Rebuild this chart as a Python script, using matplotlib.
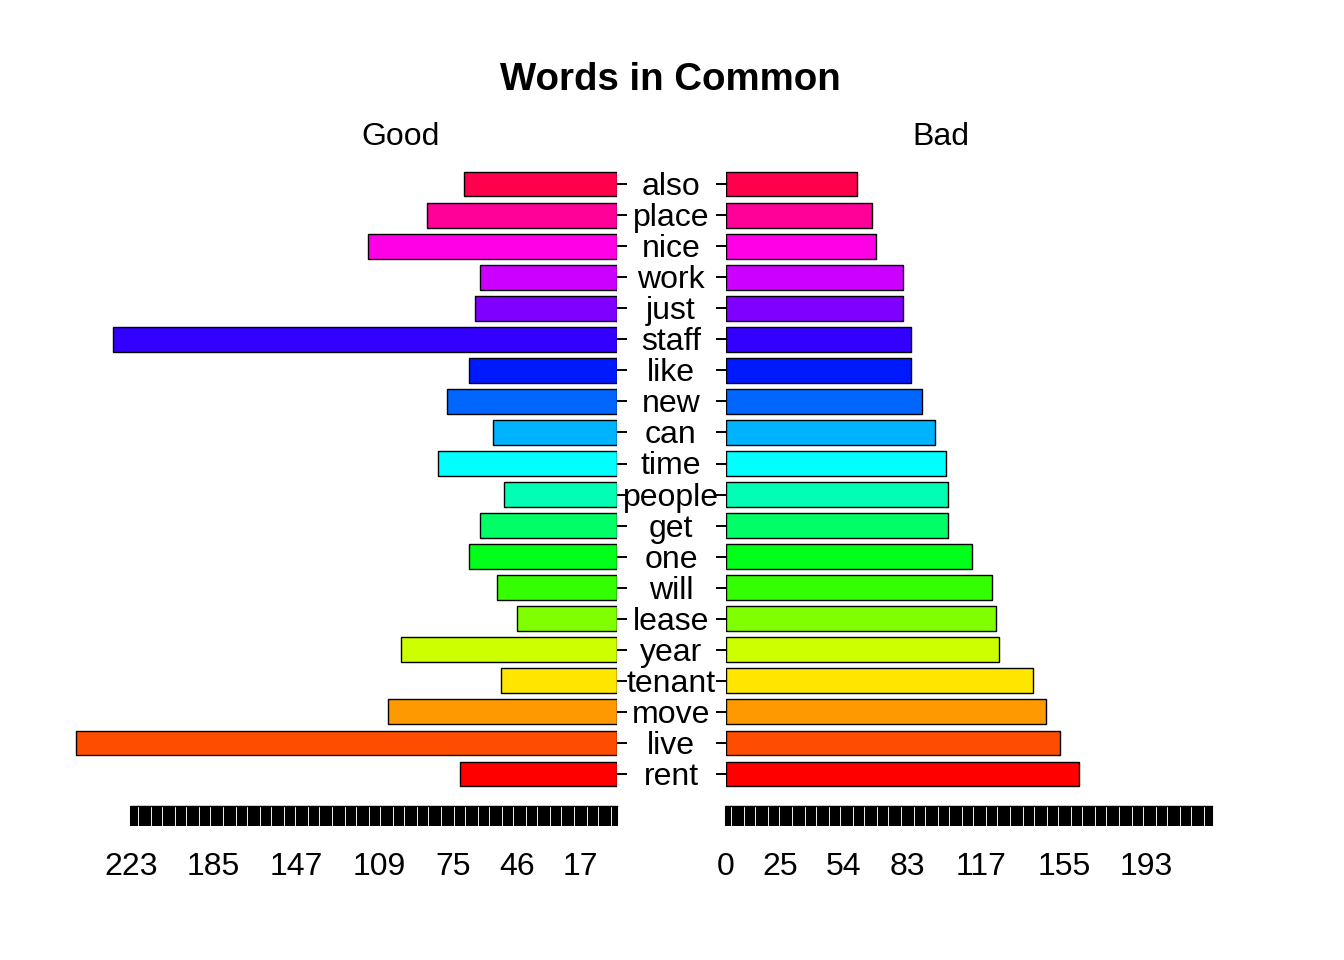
import matplotlib
matplotlib.use("Agg")
import matplotlib.pyplot as plt
import matplotlib.transforms as mtransforms
import numpy as np

words = ["rent", "live", "move", "tenant", "year", "lease", "will", "one", "get",
         "people", "time", "can", "new", "like", "staff", "just", "work", "nice",
         "place", "also"]
good = [72, 248, 105, 53, 99, 46, 55, 68, 63, 52, 82, 57, 78, 68, 231, 65, 63, 114, 87, 70]
bad = [162, 153, 147, 141, 125, 124, 122, 113, 102, 102, 101, 96, 90, 85, 85, 81, 81, 69, 67, 60]
colors = ["#FF0000", "#FF4D00", "#FF9900", "#FFE600", "#CCFF00", "#80FF00", "#33FF00",
          "#00FF19", "#00FF66", "#00FFB2", "#00FFFF", "#00B3FF", "#0066FF", "#001AFF",
          "#3300FF", "#7F00FF", "#CC00FF", "#FF00E6", "#FF0099", "#FF004D"]
left_ticks = [223, 185, 147, 109, 75, 46, 17]
right_ticks = [0, 25, 54, 83, 117, 155, 193]
axis_max = 223

plt.rcParams['font.family'] = ['Liberation Sans', 'DejaVu Sans']

W, H = 1344, 960
fig = plt.figure(figsize=(W / 100, H / 100), dpi=100)

S = 2.18  # px per unit
ax_w_px = 577
ytop_px, ybot_px = 150, 806
row0_px, row_sp = 774, 31.05

def frac_rect(x0, x1):
    return [x0 / W, (H - ybot_px) / H, (x1 - x0) / W, (ybot_px - ytop_px) / H]

axL = fig.add_axes(frac_rect(617 - ax_w_px, 617))
axR = fig.add_axes(frac_rect(726, 726 + ax_w_px), sharey=axL)

y = np.arange(len(words))
ylo = -(ybot_px - row0_px) / row_sp
yhi = (row0_px - ytop_px) / row_sp

axL.barh(y, good, height=0.8, color=colors, edgecolor="black", linewidth=1.0)
axR.barh(y, bad, height=0.8, color=colors, edgecolor="black", linewidth=1.0)

axL.set_xlim(ax_w_px / S, 0)
axR.set_xlim(0, ax_w_px / S)
axL.set_ylim(ylo, yhi)

minor = np.arange(0, axis_max + 1)
for ax, labs in ((axL, left_ticks), (axR, right_ticks)):
    for s in ("top", "left", "right"):
        ax.spines[s].set_visible(False)
    ax.spines["bottom"].set_bounds(0, axis_max)
    ax.spines["bottom"].set_linewidth(1.0)
    ax.set_xticks(labs)
    ax.set_xticklabels([str(v) for v in labs])
    ax.set_xticks(minor, minor=True)
    ax.tick_params(axis="x", which="both", direction="out", length=14.4, width=1.5,
                   pad=19, labelsize=23)
    ax.set_yticks(y)
    ax.set_yticklabels([])

axL.yaxis.tick_right()
axL.tick_params(axis="y", direction="out", length=7.2, width=1.4, right=True, left=False)
axR.tick_params(axis="y", direction="out", length=7.2, width=1.4, left=True, right=False)

# word labels, nudged down slightly to match ink-centred placement
offset = mtransforms.ScaledTranslation(0, -3 / 100, fig.dpi_scale_trans)
trans = mtransforms.blended_transform_factory(fig.transFigure, axR.transData) + offset
for yi, w in zip(y, words):
    fig.text(671 / W, yi, w, transform=trans, ha="center", va="center", fontsize=23)

fig.text(670 / W, 1 - 80 / H, "Words in Common", ha="center", va="center",
         fontsize=27.6, fontweight="bold")
fig.text(401 / W, 1 - 137 / H, "Good", ha="center", va="center", fontsize=23)
fig.text(941 / W, 1 - 137 / H, "Bad", ha="center", va="center", fontsize=23)

fig.savefig("out.png", dpi=100, facecolor="white")
